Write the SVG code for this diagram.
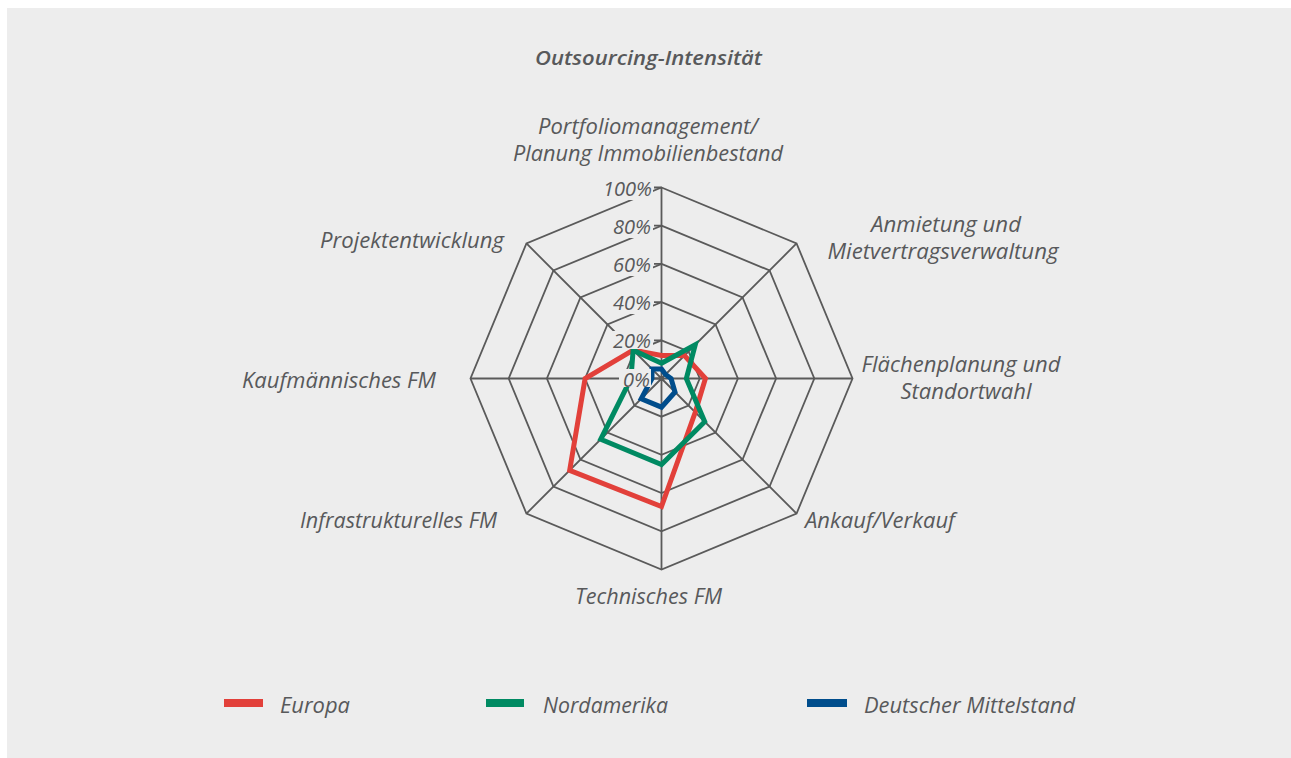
<svg xmlns="http://www.w3.org/2000/svg" width="1291" height="758" viewBox="0 0 1291 758">
<style>
.lbl{font-family:"Open Sans","Noto Sans","Liberation Sans",sans-serif;font-style:italic;font-size:21.5px;fill:#58595b}
.tick{font-family:"Open Sans","Noto Sans","Liberation Sans",sans-serif;font-style:italic;font-size:20px;fill:#58595b}
.ttl{font-family:"Open Sans","Noto Sans","Liberation Sans",sans-serif;font-style:italic;font-weight:600;font-size:20.5px;fill:#58595b}
.grid{fill:none;stroke:#5a5a5a;stroke-width:1.8}
.ser{fill:none;stroke-width:5;stroke-linejoin:miter;stroke-miterlimit:10}
.bg{fill:#ededed}
</style>
<rect x="0" y="0" width="1291" height="758" fill="#ffffff"/>
<rect x="7" y="8" width="1284" height="750" class="bg"/>
<text class="ttl" x="648.5" y="64.5" text-anchor="middle" textLength="227" lengthAdjust="spacingAndGlyphs">Outsourcing-Intensität</text>
<g id="grid">
<polygon class="grid" points="661.5,340.3 688.51,351.49 699.7,378.5 688.51,405.51 661.5,416.7 634.49,405.51 623.3,378.5 634.49,351.49"/>
<polygon class="grid" points="661.5,302.1 715.52,324.48 737.9,378.5 715.52,432.52 661.5,454.9 607.48,432.52 585.1,378.5 607.48,324.48"/>
<polygon class="grid" points="661.5,263.9 742.53,297.47 776.1,378.5 742.53,459.53 661.5,493.1 580.47,459.53 546.9,378.5 580.47,297.47"/>
<polygon class="grid" points="661.5,225.7 769.55,270.45 814.3,378.5 769.55,486.55 661.5,531.3 553.45,486.55 508.7,378.5 553.45,270.45"/>
<polygon class="grid" points="661.5,187.5 796.56,243.44 852.5,378.5 796.56,513.56 661.5,569.5 526.44,513.56 470.5,378.5 526.44,243.44"/>
<path class="grid" d="M661.5,378.5V187.5M661.5,378.5L796.56,243.44M661.5,378.5H852.5M661.5,378.5L796.56,513.56M661.5,378.5V569.5M661.5,378.5L526.44,513.56M661.5,378.5H470.5M661.5,378.5L526.44,243.44"/>
<path class="grid" d="M654,187.5H661.5M654,225.7H661.5M654,263.9H661.5M654,302.1H661.5M654,340.3H661.5M654,378.5H661.5"/>
</g>
<g id="series">
<polygon id="europa-line" class="ser" stroke="#e2403a" points="661.5,355.58 684.46,355.54 705.43,378.5 695.26,412.26 661.5,506.47 569.66,470.34 585.1,378.5 633.14,350.14"/>
<polygon id="nordamerika-line" class="ser" stroke="#008a62" points="661.5,363.22 695.26,344.74 686.33,378.5 704.72,421.72 661.5,464.45 600.72,439.28 630.94,378.5 633.14,350.14"/>
<polygon id="mittelstand-line" class="ser" stroke="#004d8c" points="661.5,368.95 665.55,374.45 671.05,378.5 675.01,392.01 661.5,407.15 641.24,398.76 651.95,378.5 652.05,369.05"/>
</g>
<g id="ticks">
<rect class="bg" x="599" y="178" width="54" height="22"/>
<text class="tick" x="652" y="195.5" text-anchor="end">100%</text>
<rect class="bg" x="608" y="216" width="45" height="22"/>
<text class="tick" x="651" y="233.7" text-anchor="end">80%</text>
<rect class="bg" x="608" y="254" width="45" height="22"/>
<text class="tick" x="651" y="271.9" text-anchor="end">60%</text>
<rect class="bg" x="608" y="292" width="45" height="22"/>
<text class="tick" x="651" y="310.1" text-anchor="end">40%</text>
<rect class="bg" x="608" y="331" width="45" height="18"/>
<text class="tick" x="651" y="348.3" text-anchor="end">20%</text>
<rect class="bg" x="619" y="369" width="32" height="18"/>
<text class="tick" x="650" y="386.5" text-anchor="end">0%</text>
</g>
<g id="axis-portfolio">
<text class="lbl" x="648" y="134" text-anchor="middle" textLength="220" lengthAdjust="spacingAndGlyphs">Portfoliomanagement/</text>
<text class="lbl" x="648" y="161" text-anchor="middle" textLength="270" lengthAdjust="spacingAndGlyphs">Planung Immobilienbestand</text>
</g>
<g id="axis-anmietung">
<text class="lbl" x="946" y="232" text-anchor="middle" textLength="150" lengthAdjust="spacingAndGlyphs">Anmietung und</text>
<text class="lbl" x="943" y="259" text-anchor="middle" textLength="231" lengthAdjust="spacingAndGlyphs">Mietvertragsverwaltung</text>
</g>
<g id="axis-flaechen">
<text class="lbl" x="961" y="372" text-anchor="middle" textLength="199" lengthAdjust="spacingAndGlyphs">Flächenplanung und</text>
<text class="lbl" x="966" y="399" text-anchor="middle" textLength="131" lengthAdjust="spacingAndGlyphs">Standortwahl</text>
</g>
<g id="axis-ankauf">
<text class="lbl" x="805" y="528" textLength="150" lengthAdjust="spacingAndGlyphs">Ankauf/Verkauf</text>
</g>
<g id="axis-technisch">
<text class="lbl" x="575" y="604" textLength="147" lengthAdjust="spacingAndGlyphs">Technisches FM</text>
</g>
<g id="axis-infra">
<text class="lbl" x="300" y="528" textLength="197" lengthAdjust="spacingAndGlyphs">Infrastrukturelles FM</text>
</g>
<g id="axis-kaufm">
<text class="lbl" x="242" y="388" textLength="194" lengthAdjust="spacingAndGlyphs">Kaufmännisches FM</text>
</g>
<g id="axis-projekt">
<text class="lbl" x="320" y="248" textLength="184" lengthAdjust="spacingAndGlyphs">Projektentwicklung</text>
</g>
<g id="legend-europa">
<rect x="224" y="699" width="39" height="8" fill="#e2403a"/>
<text class="lbl" x="280" y="713" textLength="70" lengthAdjust="spacingAndGlyphs">Europa</text>
</g>
<g id="legend-nordamerika">
<rect x="486" y="699" width="38" height="8" fill="#008a62"/>
<text class="lbl" x="543" y="713" textLength="125" lengthAdjust="spacingAndGlyphs">Nordamerika</text>
</g>
<g id="legend-mittelstand">
<rect x="807" y="699" width="40" height="8" fill="#004d8c"/>
<text class="lbl" x="864" y="713" textLength="211" lengthAdjust="spacingAndGlyphs">Deutscher Mittelstand</text>
</g>
</svg>
